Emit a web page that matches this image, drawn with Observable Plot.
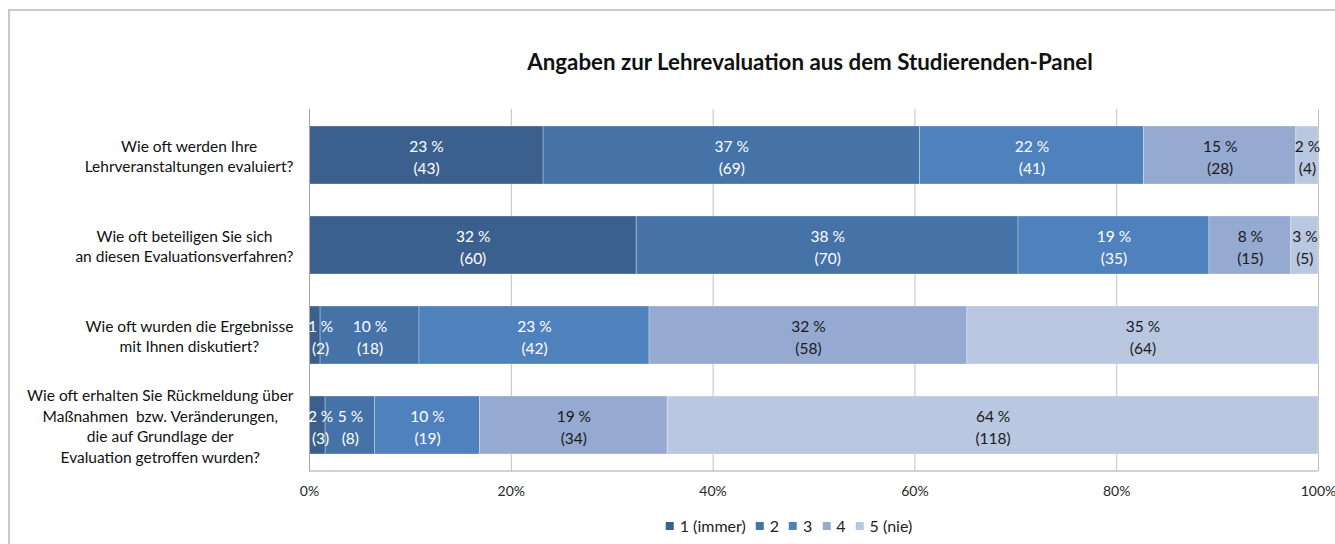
<!DOCTYPE html>
<html>
<head>
<meta charset="utf-8">
<script src="https://cdn.jsdelivr.net/npm/d3@7"></script>
<script src="https://cdn.jsdelivr.net/npm/@observablehq/plot@0.6"></script>
<style>
  html, body { margin: 0; padding: 0; background: #fff; }
  #wrap { position: relative; width: 1335px; height: 544px; overflow: hidden; font-family: Lato, "Open Sans", sans-serif; }
  #border { position: absolute; left: 8px; top: 9px; width: 2000px; height: 2000px; border-left: 2px solid #c9c9c9; border-top: 2px solid #c9c9c9; box-sizing: border-box; }
  #title { position: absolute; left: 810px; top: 48px; transform: translateX(-50%); white-space: nowrap; font-weight: 700; font-size: 22.3px; color: #111; }
  #chart { position: absolute; left: 0; top: 0; }
  #legend { position: absolute; left: 789px; top: 516px; transform: translateX(-50%); display: flex; align-items: center; white-space: nowrap; font-size: 16px; color: #222; }
  #legend .item { display: flex; align-items: center; margin-right: 10px; }
  #legend .item:last-child { margin-right: 0; }
  #legend .sw { width: 8px; height: 8px; margin-right: 6px; }
</style>
</head>
<body>
<div id="wrap">
  <div id="border"></div>
  <div id="chart"></div>
  <div id="title"></div>
  <div id="legend"></div>
</div>
<script>
// ---- data ----
const chartTitle = "Angaben zur Lehrevaluation aus dem Studierenden-Panel";
const questions = [
  "Wie oft werden Ihre\nLehrveranstaltungen evaluiert?",
  "Wie oft beteiligen Sie sich\nan diesen Evaluationsverfahren?",
  "Wie oft wurden die Ergebnisse\nmit Ihnen diskutiert?",
  "Wie oft erhalten Sie Rückmeldung über\nMaßnahmen  bzw. Veränderungen,\ndie auf Grundlage der\nEvaluation getroffen wurden?"
];
const levels = ["1 (immer)", "2", "3", "4", "5 (nie)"];
const levelColors = ["#3c608d", "#4572a7", "#4f81bd", "#95a9d1", "#bac7e1"];
const labelColors = ["#ffffff", "#ffffff", "#ffffff", "#1a1a1a", "#1a1a1a"];
// bar lengths (share of respondents, %)
const shares = [
  [23.2, 37.3, 22.2, 15.1, 2.2],
  [32.4, 37.8, 18.9, 8.1, 2.7],
  [1.1, 9.8, 22.8, 31.5, 34.8],
  [1.6, 4.9, 10.4, 18.6, 64.5]
];
// printed percentage labels
const pctLabels = [
  [23, 37, 22, 15, 2],
  [32, 38, 19, 8, 3],
  [1, 10, 23, 32, 35],
  [2, 5, 10, 19, 64]
];
// printed counts
const counts = [
  [43, 69, 41, 28, 4],
  [60, 70, 35, 15, 5],
  [2, 18, 42, 58, 64],
  [3, 8, 19, 34, 118]
];
const xTicks = [0, 0.2, 0.4, 0.6, 0.8, 1];
const gridTicks = [0.2, 0.4, 0.6, 0.8, 1];

// ---- table ----
const table = [];
questions.forEach((q, i) => {
  const total = d3.sum(shares[i]);
  let cum = 0;
  levels.forEach((lv, j) => {
    const s = shares[i][j] / total;
    // label position: segment middle, kept clear of the axis for very thin segments
    const mid = Math.max(cum + s / 2, 0.011);
    cum += s;
    table.push({question: q, level: lv, li: j, share: shares[i][j], mid, pct: pctLabels[i][j], count: counts[i][j]});
  });
});

// measure label widths for centered multi-line y labels
const yFont = 15.5;
const ctx = document.createElement("canvas").getContext("2d");
ctx.font = `${yFont}px Lato`;
const blockWidth = q => Math.max(...q.split("\n").map(s => ctx.measureText(s).width));

const W = 1335, H = 544;
const mTop = 109, mBottom = H - 471, mLeft = 309, mRight = 17;

const bottomLine = (index, scales, values, dims) => {
  const y = dims.height - dims.marginBottom;
  const l = d3.create("svg:line")
    .attr("x1", dims.marginLeft).attr("x2", dims.width - dims.marginRight)
    .attr("y1", y).attr("y2", y)
    .attr("stroke", "#a6a6a6").attr("stroke-width", 1);
  return l.node();
};

const stackOpts = {x: "share", y: "question", z: "level", order: null, offset: "normalize"};

const plot = Plot.plot({
  width: W, height: H,
  marginTop: mTop, marginBottom: mBottom, marginLeft: mLeft, marginRight: mRight,
  style: {fontFamily: "Lato, 'Open Sans', sans-serif", background: "transparent"},
  x: {domain: [0, 1], axis: null, label: null},
  y: {domain: questions, paddingInner: 0.359, paddingOuter: 0.18, axis: null, label: null},
  color: {domain: levels, range: levelColors},
  marks: [
    Plot.ruleX(gridTicks, {stroke: "#c0c0c0", strokeWidth: 1}),
    Plot.barX(table, Plot.stackX({...stackOpts, fill: "level", stroke: "#ffffff", strokeOpacity: 0.3, strokeWidth: 1})),
    Plot.ruleX([0], {stroke: "#a6a6a6", strokeWidth: 1}),
    bottomLine,
    Plot.axisX({ticks: xTicks, tickSize: 0, tickPadding: 15, tickFormat: d3.format(".0%"), fontSize: 14, fill: "#262626", label: null}),
    Plot.text(table, {
      x: "mid", y: "question",
      text: d => `${d.pct} %\n(${d.count})`,
      fill: d => labelColors[d.li],
      fontSize: 15.5, lineHeight: 1.42
    }),
    ...questions.map(q => Plot.text([q], {
      y: d => d, text: d => d,
      frameAnchor: "left", textAnchor: "middle",
      dx: -(16 + blockWidth(q) / 2),
      fontSize: yFont, lineHeight: 1.33, fill: "#111"
    }))
  ]
});
plot.querySelectorAll("text").forEach(t => t.style.whiteSpace = "pre");
document.getElementById("chart").appendChild(plot);
document.getElementById("title").textContent = chartTitle;

const legend = document.getElementById("legend");
levels.forEach((lv, j) => {
  const it = document.createElement("div");
  it.className = "item";
  const sw = document.createElement("div");
  sw.className = "sw";
  sw.style.background = levelColors[j];
  const tx = document.createElement("span");
  tx.textContent = lv;
  it.appendChild(sw); it.appendChild(tx);
  legend.appendChild(it);
});
</script>
</body>
</html>
